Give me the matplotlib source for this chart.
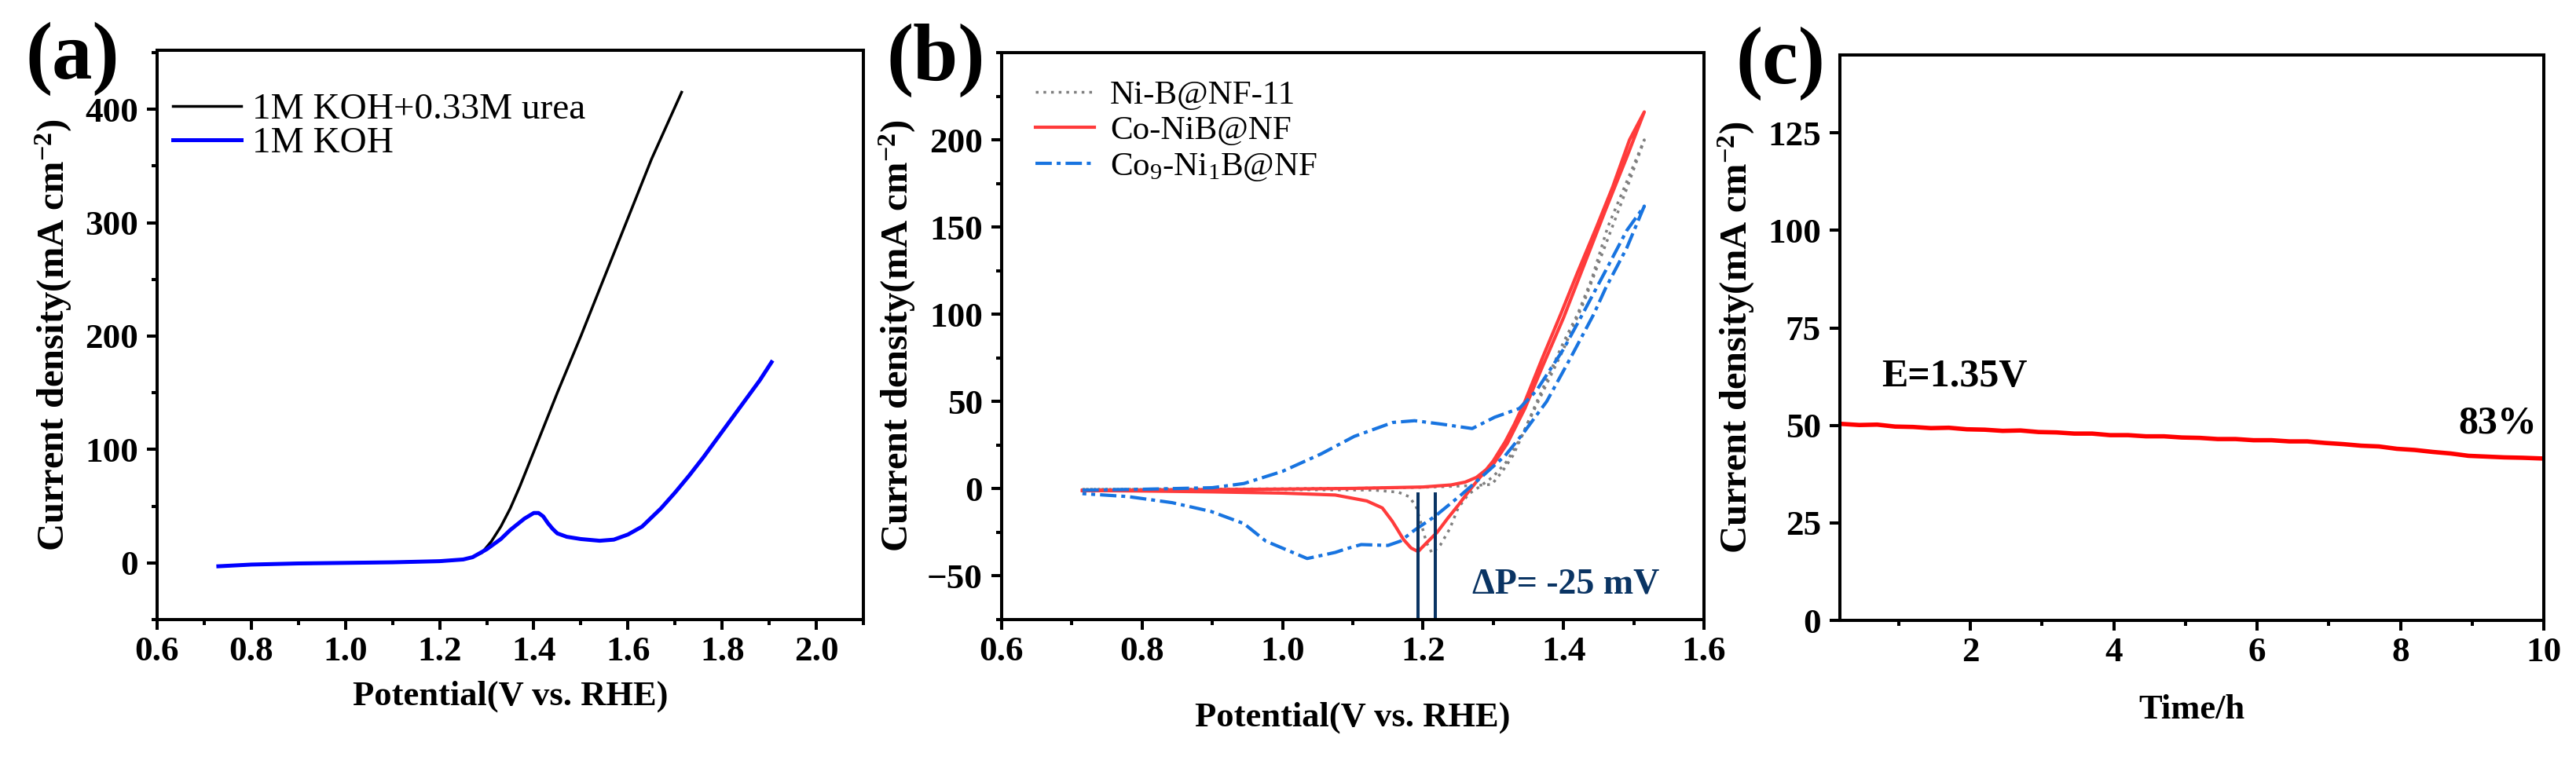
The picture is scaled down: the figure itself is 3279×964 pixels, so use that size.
import matplotlib
matplotlib.use('Agg')
import matplotlib.pyplot as plt
from matplotlib.ticker import MultipleLocator

plt.rcParams['font.family'] = ['Liberation Serif', 'DejaVu Serif']
plt.rcParams['font.weight'] = 'bold'
plt.rcParams['axes.labelweight'] = 'bold'
plt.rcParams['mathtext.default'] = 'regular'
plt.rcParams['axes.linewidth'] = 2.9

# ---- (a) LSV in KOH with / without urea
pot_urea = [0.73, 0.8, 0.9, 1.0, 1.1, 1.2, 1.25, 1.27, 1.29, 1.31, 1.33, 1.35,
            1.37, 1.40, 1.45, 1.50, 1.55, 1.60, 1.65, 1.714]
j_urea = [-3, -1.5, -0.5, 0, 0.5, 1.5, 3, 5, 9, 19, 32, 48,
          67, 98, 150, 200, 252, 304, 356, 415]

pot_koh = [0.73, 0.8, 0.9, 1.0, 1.1, 1.2, 1.25, 1.27, 1.30, 1.33, 1.35, 1.38,
           1.40, 1.41, 1.42, 1.43, 1.44, 1.45, 1.47, 1.50, 1.54, 1.57, 1.60,
           1.63, 1.67, 1.70, 1.73, 1.76, 1.79, 1.82, 1.85, 1.88, 1.905]
j_koh = [-3, -1.5, -0.5, 0, 0.5, 1.5, 3, 5, 12, 21, 29, 39,
         44, 44, 41, 35, 30, 26, 23, 21, 19.5, 20.5, 25,
         32, 48, 62, 77, 93, 110, 127, 144, 161, 177]

# ---- (b) CV loops (forward sweep then reverse sweep)
pot_nib = [0.715, 0.9, 1.0, 1.1, 1.2, 1.25, 1.28, 1.298, 1.313, 1.328, 1.343,
           1.36, 1.38, 1.40, 1.42, 1.44, 1.463, 1.49, 1.515,
           1.49, 1.46, 1.43, 1.40, 1.37, 1.34, 1.32, 1.30, 1.28, 1.265, 1.25,
           1.238, 1.225, 1.213, 1.205, 1.198, 1.19, 1.18, 1.165, 1.13, 1.0, 0.715]
j_nib = [-0.3, -0.2, 0, 0.3, 0.8, 1.5, 2.0, 2.5, 10, 19, 32,
         48, 66, 84, 100, 120, 150, 176, 200,
         172, 140, 108, 80, 55, 30, 16, 7, 1, -3, -11,
         -23, -32, -37, -31, -21, -10, -4.5, -2, -0.8, -0.5, -0.3]

pot_conib = [0.715, 0.8, 0.9, 1.0, 1.1, 1.2, 1.24, 1.26, 1.276, 1.29, 1.30,
             1.317, 1.33, 1.345, 1.37, 1.396, 1.42, 1.447, 1.47, 1.494, 1.515,
             1.49, 1.46, 1.43, 1.40, 1.37, 1.345, 1.32, 1.30, 1.282, 1.265,
             1.25, 1.235, 1.22, 1.205, 1.193, 1.183, 1.172, 1.163, 1.156,
             1.142, 1.12, 1.075, 1.0, 0.9, 0.8, 0.715]
j_conib = [-1.0, -0.8, -0.5, -0.2, 0.2, 1.0, 2.2, 3.8, 6.5, 11, 16,
           27, 37, 50, 75, 100, 124, 150, 173, 200, 216,
           190, 160, 129, 98, 70, 46, 26, 14, 7, -1.5,
           -9.5, -17, -25, -31, -36, -34, -29, -23, -18.5,
           -11, -7, -3.6, -2.5, -1.8, -1.3, -1.0]

pot_co9 = [0.715, 0.8, 0.9, 0.945, 1.0, 1.055, 1.102, 1.157, 1.188, 1.227,
           1.27, 1.302, 1.337, 1.361, 1.40, 1.427, 1.46, 1.49, 1.515,
           1.49, 1.46, 1.443, 1.41, 1.376, 1.343, 1.317, 1.284, 1.254, 1.217,
           1.187, 1.168, 1.15, 1.112, 1.09, 1.075, 1.035, 0.976, 0.945, 0.898,
           0.843, 0.78, 0.715]
j_co9 = [-0.8, -0.3, 0.6, 3, 10, 20, 30, 38, 39, 37,
         34.5, 41, 46, 56, 80, 100, 125, 148, 162,
         138, 115, 100, 75, 50, 32, 19, 7, -3.6, -15.8,
         -24, -30, -32.5, -32, -34.5, -36.5, -40, -30, -20, -13,
         -8, -4.5, -2.8]

peak_pos = [1.193, 1.218]

# ---- (c) chronoamperometry at 1.35 V
time_h = [0.19, 0.45, 0.7, 0.95, 1.2, 1.45, 1.7, 1.95, 2.2, 2.45, 2.7, 2.95,
          3.2, 3.45, 3.7, 3.95, 4.2, 4.45, 4.7, 4.95, 5.2, 5.45, 5.7, 5.95,
          6.2, 6.45, 6.7, 6.95, 7.2, 7.45, 7.7, 7.95, 8.2, 8.45, 8.7, 8.95,
          9.2, 9.45, 9.7, 10.0]
j_time = [50.4, 50.1, 50.2, 49.7, 49.6, 49.3, 49.4, 49.0, 48.9, 48.6, 48.7,
          48.3, 48.2, 47.9, 47.9, 47.5, 47.5, 47.2, 47.2, 46.9, 46.8, 46.5,
          46.5, 46.2, 46.2, 45.9, 45.9, 45.5, 45.2, 44.8, 44.6, 44.0, 43.7,
          43.2, 42.8, 42.2, 42.0, 41.8, 41.7, 41.5]

W, H = 3280, 964
fig = plt.figure(figsize=(W / 100, H / 100), dpi=100)

def box(l, t, r, b):
    return [l / W, 1 - b / H, (r - l) / W, (b - t) / H]

ax1 = fig.add_axes(box(200, 64, 1099, 789))
ax2 = fig.add_axes(box(1275, 67, 2169, 789))
ax3 = fig.add_axes(box(2342, 70, 3238, 790))

for ax in (ax1, ax2, ax3):
    ax.tick_params(which='both', direction='out', top=False, right=False,
                   labelsize=32.5, width=2.9)
    ax.tick_params(which='major', length=9.4)
    ax.tick_params(which='minor', length=5)
    ax.tick_params(axis='x', pad=6)
    ax.tick_params(axis='y', pad=8)

ylab = 'Current density(mA cm$^{-2}$)'

# (a)
ax1.plot(pot_urea, j_urea, color='black', lw=2.5, label='1M KOH+0.33M urea')
ax1.plot(pot_koh, j_koh, color='#0000ff', lw=3.6, label='1M KOH')
ax1.set_xlim(0.6, 2.1)
ax1.set_ylim(-50, 452)
ax1.set_xticks([0.6, 0.8, 1.0, 1.2, 1.4, 1.6, 1.8, 2.0])
ax1.xaxis.set_minor_locator(MultipleLocator(0.1))
ax1.set_yticks([0, 100, 200, 300, 400])
ax1.yaxis.set_minor_locator(MultipleLocator(50))
ax1.set_xlabel('Potential(V vs. RHE)', fontsize=32, fontweight='bold', va='center')
ax1.xaxis.set_label_coords(0.5, -0.135)
ax1.set_ylabel(ylab, fontsize=35, fontweight='bold', va='center')
ax1.yaxis.set_label_coords(-0.147, 0.5)
ax1.legend(loc='upper left', bbox_to_anchor=(0.022, 0.925), frameon=False,
           prop={'size': 34, 'weight': 'normal'}, handlelength=1.85,
           handletextpad=0.3, labelspacing=0.0, borderpad=0, borderaxespad=0)

# (b)
ax2.plot(pot_nib, j_nib, color='#7f7f7f', lw=2.5, ls=(0, (1, 1.8)),
         label='Ni-B@NF-11')
ax2.plot(pot_conib, j_conib, color='#ff3b3b', lw=3.0, label='Co-NiB@NF')
ax2.plot(pot_co9, j_co9, color='#1874e0', lw=3.0, ls=(0, (5, 1.5, 1.2, 1.5)),
         label='Co$_9$-Ni$_1$B@NF')
ax2.vlines(peak_pos, -75, -2, color='#0a3463', lw=2.9)
ax2.text(1.27, -55, 'ΔP= -25 mV', color='#0a3463', fontsize=33,
         fontweight='bold', ha='left', va='center')
ax2.set_xlim(0.6, 1.6)
ax2.set_ylim(-75, 250)
ax2.set_xticks([0.6, 0.8, 1.0, 1.2, 1.4, 1.6])
ax2.xaxis.set_minor_locator(MultipleLocator(0.1))
ax2.set_yticks([-50, 0, 50, 100, 150, 200])
ax2.yaxis.set_minor_locator(MultipleLocator(25))
ax2.set_xlabel('Potential(V vs. RHE)', fontsize=32, fontweight='bold', va='center')
ax2.xaxis.set_label_coords(0.5, -0.173)
ax2.set_ylabel(ylab, fontsize=35, fontweight='bold', va='center')
ax2.yaxis.set_label_coords(-0.148, 0.5)
ax2.legend(loc='upper left', bbox_to_anchor=(0.048, 0.952), frameon=False,
           prop={'size': 31, 'weight': 'normal'}, handlelength=1.74,
           handletextpad=0.47, labelspacing=0.15, borderpad=0, borderaxespad=0)

# (c)
ax3.plot(time_h, j_time, color='#ff0000', lw=4.0)
ax3.text(0.76, 62.5, 'E=1.35V', fontsize=36, fontweight='bold',
         ha='left', va='center')
ax3.text(9.9, 50.4, '83%', fontsize=36, fontweight='bold',
         ha='right', va='center')
ax3.set_xlim(0.18, 10)
ax3.set_ylim(0, 145)
ax3.set_xticks([2, 4, 6, 8, 10])
ax3.xaxis.set_minor_locator(MultipleLocator(1))
ax3.set_yticks([0, 25, 50, 75, 100, 125])
ax3.set_xlabel('Time/h', fontsize=32, fontweight='bold', va='center')
ax3.xaxis.set_label_coords(0.5, -0.158)
ax3.set_ylabel(ylab, fontsize=35, fontweight='bold', va='center')
ax3.yaxis.set_label_coords(-0.147, 0.5)

# panel letters
fig.text(92 / W, 1 - 75 / H, '(a)', fontsize=74, fontweight='bold', ha='center', va='center')
fig.text(1191 / W, 1 - 77 / H, '(b)', fontsize=74, fontweight='bold', ha='center', va='center')
fig.text(2267 / W, 1 - 81 / H, '(c)', fontsize=74, fontweight='bold', ha='center', va='center')

fig.savefig('out.png', dpi=100)
